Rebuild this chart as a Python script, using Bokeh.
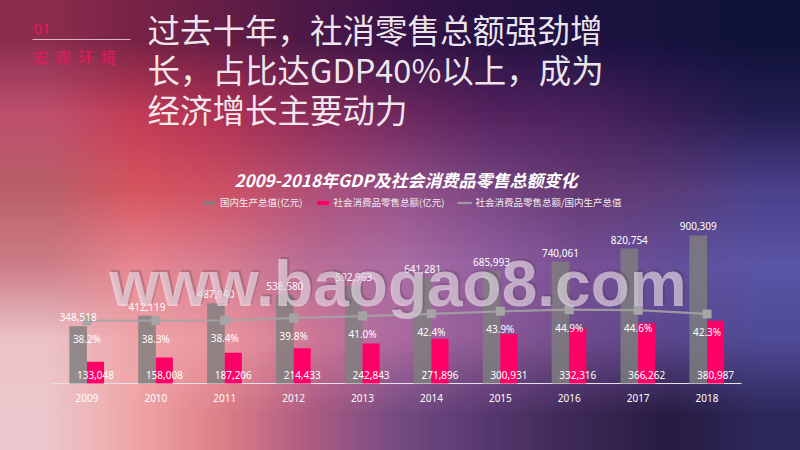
import base64
import struct
import zlib

from bokeh.core.properties import value
from bokeh.embed import file_html
from bokeh.models import BoxAnnotation, ColumnDataSource, FixedTicker, Label, Range1d
from bokeh.plotting import figure
from bokeh.resources import INLINE
from bokeh.transform import dodge

# ---------------- data ----------------
years = [2009, 2010, 2011, 2012, 2013, 2014, 2015, 2016, 2017, 2018]
gdp = [348518, 412119, 487940, 538580, 592963, 641281, 685993, 740061, 820754, 900309]
retail = [133048, 158008, 187206, 214433, 242843, 271896, 300931, 332316, 366262, 380987]
ratio = [0.382, 0.383, 0.384, 0.398, 0.410, 0.424, 0.439, 0.449, 0.446, 0.423]

series_names = ["国内生产总值(亿元)", "社会消费品零售总额(亿元)", "社会消费品零售总额/国内生产总值"]
chart_title = "2009-2018年GDP及社会消费品零售总额变化"
heading_lines = ["过去十年，社消零售总额强劲增", "长，占比达GDP40%以上，成为", "经济增长主要动力"]
section_no = "01"
section_name = "宏\u2002观\u2002环\u2002境"
watermark = "www.baogao8.com"

# ---------------- layout (reference pixel space) ----------------
OFF = 0                      # the page is shown from its top-left corner
W, H = 800 - 2 * OFF, 450 - 2 * OFF
BASE_Y = 383                 # baseline of the bars
FRAME_BOTTOM = 385
PX_PER_UNIT = 164.4e-6       # pixels per 亿元
CAT_W = 68.9
LEFT_EDGE = 52


def sx(x):
    return x - OFF


def sy(y):
    return FRAME_BOTTOM - y


y_start = -(FRAME_BOTTOM - BASE_Y) / PX_PER_UNIT
y_end = (BASE_Y - OFF) / PX_PER_UNIT
x_start = years[0] - 0.5 - (LEFT_EDGE - OFF) / CAT_W
x_end = x_start + W / CAT_W

# ---------------- background (blurred slide backdrop) ----------------
bg_grid = [
    [(140, 45, 78), (120, 35, 70), (100, 30, 70), (75, 25, 70), (55, 20, 70), (40, 18, 68), (30, 18, 65), (22, 18, 62), (15, 18, 58)],
    [(190, 80, 110), (195, 60, 85), (175, 50, 85), (140, 45, 90), (110, 40, 95), (85, 35, 95), (75, 35, 92), (55, 30, 85), (35, 30, 80)],
    [(185, 95, 105), (215, 85, 95), (205, 80, 100), (175, 80, 120), (150, 80, 135), (120, 70, 130), (100, 58, 115), (90, 60, 120), (75, 65, 140)],
    [(205, 125, 135), (230, 135, 145), (215, 125, 145), (185, 110, 150), (170, 110, 165), (145, 95, 160), (120, 80, 150), (100, 80, 155), (90, 85, 165)],
    [(235, 195, 200), (240, 165, 170), (235, 150, 160), (205, 120, 150), (170, 105, 160), (140, 90, 150), (110, 75, 140), (90, 70, 140), (80, 75, 150)],
    [(235, 200, 205), (240, 165, 165), (220, 125, 135), (170, 90, 130), (115, 75, 130), (85, 55, 110), (60, 40, 85), (40, 28, 65), (45, 40, 90)],
]


def make_png(rows):
    h = len(rows)
    w = len(rows[0])
    raw = b"".join(b"\x00" + bytes([c for px in row for c in px]) for row in rows)

    def chunk(tag, data):
        out = struct.pack(">I", len(data)) + tag + data
        return out + struct.pack(">I", zlib.crc32(tag + data) & 0xFFFFFFFF)

    return (b"\x89PNG\r\n\x1a\n"
            + chunk(b"IHDR", struct.pack(">IIBBBBB", w, h, 8, 2, 0, 0, 0))
            + chunk(b"IDAT", zlib.compress(raw))
            + chunk(b"IEND", b""))


bg_uri = "data:image/png;base64," + base64.b64encode(make_png(bg_grid)).decode()

# ---------------- figure ----------------
p = figure(width=W, height=H, x_range=Range1d(x_start, x_end), y_range=Range1d(y_start, y_end),
           output_backend="svg", toolbar_location=None, y_axis_location=None, title=None,
           min_border=0, min_border_bottom=H - (FRAME_BOTTOM - OFF))
p.extra_y_ranges = {"ratio": Range1d(y_start * 1e-6, y_end * 1e-6)}
p.background_fill_color = None
p.border_fill_color = None
p.outline_line_color = None
p.grid.visible = False
p.styles = {"background-image": f'url("{bg_uri}")', "background-size": "100% 100%",
            "background-repeat": "no-repeat"}

src = ColumnDataSource(dict(
    year=years, gdp=gdp, retail=retail, ratio=ratio,
    zero=[0] * len(years),
    gdp_label=[f"{v:,}" for v in gdp],
    retail_label=[f"{v:,}" for v in retail],
    ratio_label=[f"{r * 100:.1f}%" for r in ratio],
))

# baseline of the category axis
p.segment(x0=[years[0] - 0.5], y0=[0], x1=[years[-1] + 0.5], y1=[0], line_color="#e8dfe8", line_width=1)

p.vbar(x=dodge("year", -0.128, range=p.x_range), top="gdp", bottom=0, width=0.256, source=src,
       fill_color="#7f7f7f", fill_alpha=0.82, line_color=None, legend_label=series_names[0])
p.vbar(x=dodge("year", 0.124, range=p.x_range), top="retail", bottom=0, width=0.248, source=src,
       fill_color="#ff0066", line_color=None, legend_label=series_names[1])
p.line(x="year", y="ratio", source=src, y_range_name="ratio", line_color="#a5a5a5", line_width=2.2,
       line_alpha=0.85, legend_label=series_names[2])
p.scatter(x="year", y="ratio", source=src, y_range_name="ratio", marker="square", size=9,
          fill_color="#a5a5a5", line_color=None, legend_label=series_names[2])

lbl_font = value("Noto Sans")
p.text(x=dodge("year", -0.128, range=p.x_range), y="gdp", text="gdp_label", source=src,
       text_font=lbl_font, text_font_size="10px", text_color="#ffffff", text_align="center",
       text_baseline="alphabetic", y_offset=-9)
p.text(x=dodge("year", 0.124, range=p.x_range), y="zero", text="retail_label", source=src,
       text_font=lbl_font, text_font_size="10px", text_color="#ffffff", text_align="center",
       text_baseline="alphabetic", y_offset=-9)
p.text(x="year", y="ratio", text="ratio_label", source=src, y_range_name="ratio",
       text_font=lbl_font, text_font_size="10px", text_color="#ffffff", text_align="center",
       text_baseline="alphabetic", y_offset=18)

# x axis (years)
ax = p.xaxis[0]
ax.ticker = FixedTicker(ticks=years)
ax.axis_line_color = None
ax.major_tick_line_color = None
ax.minor_tick_line_color = None
ax.major_label_standoff = 2
ax.major_label_text_color = "#ffffff"
ax.major_label_text_font = "Noto Sans"
ax.major_label_text_font_size = "10px"

# legend
lg = p.legend[0]
lg.location = (sx(202), FRAME_BOTTOM - 209)
lg.orientation = "horizontal"
lg.glyph_width = 15
lg.glyph_height = 5
lg.label_height = 5
lg.label_standoff = 3
lg.spacing = 13
lg.padding = 0
lg.margin = 0
lg.background_fill_alpha = 0
lg.border_line_color = None
lg.label_text_font = "Noto Sans CJK SC"
lg.label_text_font_size = "9.5px"
lg.label_text_color = "#f2eef2"

# watermark
p.add_layout(Label(x=sx(397.5), y=sy(283), x_units="screen", y_units="screen", text=watermark,
                   text_align="center", text_baseline="alphabetic", x_offset=2, y_offset=2,
                   text_font="Liberation Sans", text_font_style="bold", text_font_size="64px",
                   text_color="#4a3048", text_alpha=0.25))
p.add_layout(Label(x=sx(397.5), y=sy(283), x_units="screen", y_units="screen", text=watermark,
                   text_align="center", text_baseline="alphabetic",
                   text_font="Liberation Sans", text_font_style="bold", text_font_size="64px",
                   text_color="#f2eaf2", text_alpha=0.6))

# chart title
p.add_layout(Label(x=sx(405.5), y=sy(179), x_units="screen", y_units="screen", text=chart_title,
                   text_align="center", text_baseline="middle", text_font="Noto Sans CJK SC",
                   text_font_style="bold italic", text_font_size="17px", text_color="#ffffff"))

# slide header
p.add_layout(Label(x=sx(33), y=sy(28), x_units="screen", y_units="screen", text=section_no,
                   text_align="left", text_baseline="middle", text_font="Noto Sans",
                   text_font_size="15px", text_color="#e8175d"))
p.add_layout(BoxAnnotation(left=sx(32), right=sx(130), bottom=sy(39) - 0.5, top=sy(39) + 0.5,
                           left_units="screen", right_units="screen", bottom_units="screen",
                           top_units="screen", fill_color="#f0d8e0", fill_alpha=0.8, line_color=None))
p.add_layout(Label(x=sx(33), y=sy(56), x_units="screen", y_units="screen", text=section_name,
                   text_align="left", text_baseline="middle", text_font="Noto Sans CJK SC",
                   text_font_size="15px", text_color="#e8175d"))
for i, line in enumerate(heading_lines):
    p.add_layout(Label(x=sx(147), y=sy(28 + 40 * i), x_units="screen", y_units="screen", text=line,
                       text_align="left", text_baseline="middle", text_font="Noto Sans CJK SC",
                       text_font_size="32.5px", text_color="#f8f4f8", text_alpha=0.95))

open("out.html", "w").write(file_html(p, INLINE))
